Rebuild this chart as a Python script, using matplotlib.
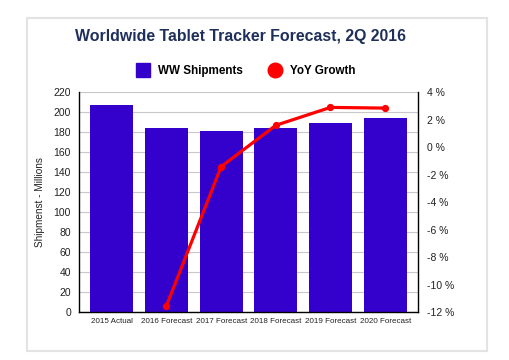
import matplotlib
matplotlib.use("Agg")
import matplotlib.pyplot as plt
from matplotlib.lines import Line2D
from matplotlib.patches import Rectangle

plt.rcParams['font.family'] = ['Liberation Sans', 'DejaVu Sans']

# data
categories = ["2015 Actual", "2016 Forecast", "2017 Forecast",
              "2018 Forecast", "2019 Forecast", "2020 Forecast"]
shipments = [207, 184, 181, 184, 189, 194]
yoy_growth = [None, -11.5, -1.4, 1.6, 2.9, 2.85]
left_ticks = list(range(0, 221, 20))
right_ticks = list(range(-12, 5, 2))

bar_color = "#3300cc"
line_color = "#ff0000"

fig = plt.figure(figsize=(5.1, 3.6), dpi=100)

# light card border around the chart
fig.patches.append(Rectangle((0.053, 0.025), 0.902, 0.925, transform=fig.transFigure,
                             fill=False, edgecolor="#e3e3e3", linewidth=1.5))

ax = fig.add_axes([0.1555, 0.132, 0.6635, 0.6117])
x = list(range(len(categories)))
ax.bar(x, shipments, width=0.79, color=bar_color, zorder=2)
ax.set_xlim(-0.595, len(categories) - 1 + 0.595)
ax.set_ylim(0, 220)
ax.set_yticks(left_ticks)
ax.set_xticks(x)
ax.set_xticklabels(categories, fontsize=5.8, color="#222222")
ax.tick_params(axis='x', length=0, pad=4)
ax.tick_params(axis='y', length=0, pad=6, labelsize=7.5, labelcolor="#222222")
ax.grid(axis='y', color="#c8c8c8", linewidth=0.8, zorder=0)
ax.set_axisbelow(True)
ax.set_ylabel("Shipmenst - Millions", fontsize=7.2, color="#222222", labelpad=6)
for side in ["top", "right"]:
    ax.spines[side].set_visible(False)
ax.spines["left"].set_linewidth(1.0)
ax.spines["bottom"].set_linewidth(1.0)

ax2 = ax.twinx()
gx = [i for i, v in zip(x, yoy_growth) if v is not None]
gy = [v for v in yoy_growth if v is not None]
ax2.plot(gx, gy, color=line_color, linewidth=2.3, marker='o', markersize=4.2, zorder=3)
ax2.set_ylim(-12, 4)
ax2.set_yticks(right_ticks)
ax2.set_yticklabels([f"{t} %" for t in right_ticks])
ax2.tick_params(axis='y', length=0, pad=7, labelsize=7.5, labelcolor="#222222")
for side in ["top", "left", "bottom"]:
    ax2.spines[side].set_visible(False)
ax2.spines["right"].set_linewidth(1.0)

fig.text(0.472, 0.9, "Worldwide Tablet Tracker Forecast, 2Q 2016",
         ha='center', va='center', fontsize=11.4, fontweight='bold', color="#1f2f5c")

handles = [Line2D([], [], linestyle='none', marker='s', markersize=10.5, color=bar_color),
           Line2D([], [], linestyle='none', marker='o', markersize=10.5, color=line_color)]
fig.legend(handles, ["WW Shipments", "YoY Growth"], loc='center', ncol=2,
           bbox_to_anchor=(0.483, 0.802), frameon=False, handlelength=1.0,
           handletextpad=0.8, columnspacing=2.2,
           prop={'size': 8.4, 'weight': 'bold'})

fig.savefig("out.png", dpi=100)
